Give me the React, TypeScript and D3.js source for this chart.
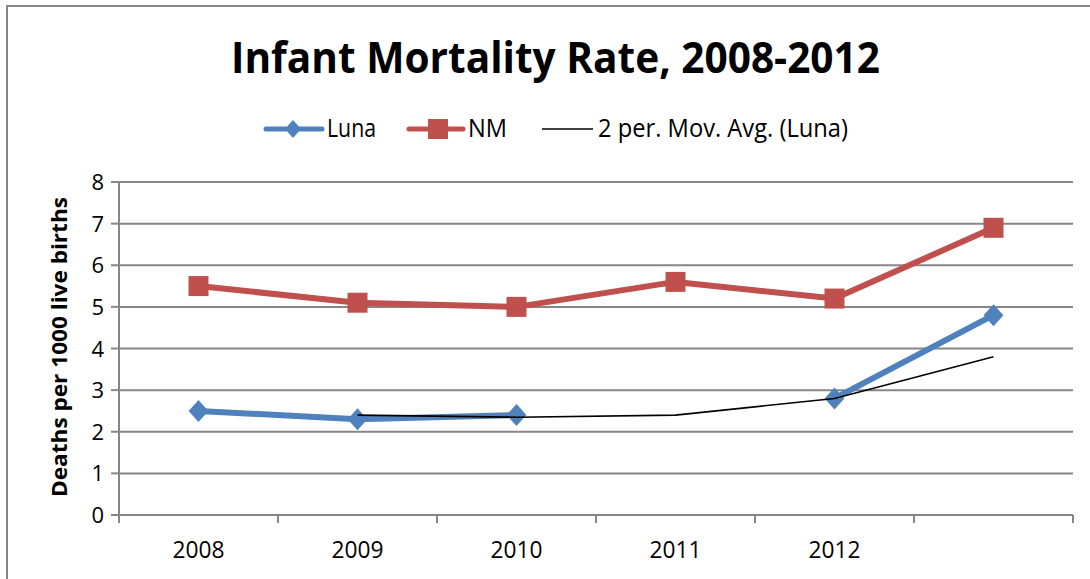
import React from "react";
import * as d3 from "d3";

const categories = ["2008", "2009", "2010", "2011", "2012", ""];
const lunaValues: (number | null)[] = [2.5, 2.3, 2.4, null, 2.8, 4.8];
const nmValues: number[] = [5.5, 5.1, 5.0, 5.6, 5.2, 6.9];
const movAvgValues: (number | null)[] = [null, 2.4, 2.35, 2.4, 2.8, 3.8];
const yTicks = [0, 1, 2, 3, 4, 5, 6, 7, 8];

const W = 1090, H = 579;
const plot = { left: 119, right: 1073, top: 182, bottom: 515 };
const BLUE = "#4F81BD", RED = "#C0504D", GRID = "#868686";
const FONT = "'Open Sans', 'Liberation Sans', sans-serif";

export default function App() {
  const x = d3.scaleBand<number>().domain(categories.map((_, i) => i)).range([plot.left, plot.right]).padding(0);
  const cx = (i: number) => (x(i) as number) + x.bandwidth() / 2;
  const y = d3.scaleLinear().domain([0, 8]).range([plot.bottom, plot.top]);

  const lineGen = d3.line<number | null>()
    .defined((d) => d !== null)
    .x((_, i) => cx(i))
    .y((d) => y(d as number));

  const tickXs = d3.range(categories.length + 1).map((i) => plot.left + i * x.bandwidth());

  const diamond = (px: number, py: number, r: number) =>
    `M${px},${py - r}L${px + r * 0.9},${py}L${px},${py + r}L${px - r * 0.9},${py}Z`;

  return (
    <svg width={W} height={H} style={{ position: "absolute", left: 0, top: 0, background: "#fff" }} fontFamily={FONT}>
      {/* outer frame */}
      <path d={`M7,${H + 5}V6H${W + 5}`} fill="none" stroke={GRID} strokeWidth={2} />
      {/* title */}
      <text x={555.5} y={73} textAnchor="middle" fontSize={43} fontWeight="bold" fill="#000" textLength={649} lengthAdjust="spacingAndGlyphs">
        Infant Mortality Rate, 2008-2012
      </text>
      {/* legend */}
      <g fontSize={25} fill="#000">
        <line x1={266} x2={322} y1={129} y2={129} stroke={BLUE} strokeWidth={5} strokeLinecap="round" />
        <path d={diamond(293, 129, 9)} fill={BLUE} />
        <text x={327} y={137} textLength={49} lengthAdjust="spacingAndGlyphs">Luna</text>
        <line x1={409} x2={463} y1={129} y2={129} stroke={RED} strokeWidth={5} strokeLinecap="round" />
        <rect x={428} y={119} width={20} height={20} fill={RED} />
        <text x={468} y={137} textLength={39} lengthAdjust="spacingAndGlyphs">NM</text>
        <line x1={542} x2={593} y1={129} y2={129} stroke="#000" strokeWidth={1.5} />
        <text x={598} y={137} textLength={250} lengthAdjust="spacingAndGlyphs">2 per. Mov. Avg. (Luna)</text>
      </g>
      {/* gridlines */}
      {yTicks.map((t) => (
        <line key={t} x1={plot.left} x2={plot.right} y1={y(t)} y2={y(t)} stroke={GRID} strokeWidth={2} />
      ))}
      {/* y axis */}
      <line x1={plot.left} x2={plot.left} y1={plot.top} y2={plot.bottom} stroke={GRID} strokeWidth={2} />
      {yTicks.map((t) => (
        <g key={"yt" + t}>
          <line x1={plot.left - 8} x2={plot.left} y1={y(t)} y2={y(t)} stroke={GRID} strokeWidth={2} />
          <text x={104} y={y(t) + 8} textAnchor="end" fontSize={22} fill="#000">{t}</text>
        </g>
      ))}
      {/* x axis ticks */}
      {tickXs.map((tx, i) => (
        <line key={"xt" + i} x1={tx} x2={tx} y1={plot.bottom} y2={plot.bottom + 8} stroke={GRID} strokeWidth={2} />
      ))}
      {categories.map((c, i) => (
        <text key={"xl" + i} x={cx(i)} y={558} textAnchor="middle" fontSize={24} fill="#000" textLength={c ? 52 : undefined} lengthAdjust="spacingAndGlyphs">{c}</text>
      ))}
      {/* y axis title */}
      <text transform={`translate(67,347) rotate(-90)`} textAnchor="middle" fontSize={21} fontWeight="bold" fill="#000" textLength={300} lengthAdjust="spacingAndGlyphs">
        Deaths per 1000 live births
      </text>
      {/* NM series */}
      <path d={lineGen(nmValues) || ""} fill="none" stroke={RED} strokeWidth={6} strokeLinejoin="round" />
      {nmValues.map((v, i) => (
        <rect key={"nm" + i} x={cx(i) - 10} y={y(v) - 10} width={20} height={20} fill={RED} />
      ))}
      {/* Luna series */}
      <path d={lineGen(lunaValues) || ""} fill="none" stroke={BLUE} strokeWidth={6} strokeLinejoin="round" />
      {lunaValues.map((v, i) =>
        v === null ? null : <path key={"lu" + i} d={diamond(cx(i), y(v), 11)} fill={BLUE} />
      )}
      {/* moving average */}
      <path d={lineGen(movAvgValues) || ""} fill="none" stroke="#000" strokeWidth={1.6} />
    </svg>
  );
}
